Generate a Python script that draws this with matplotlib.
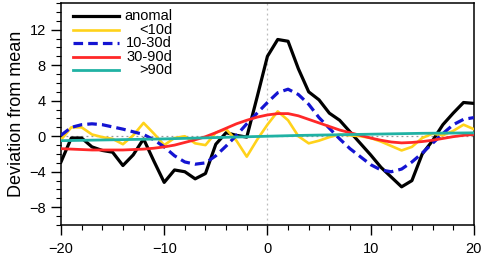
import matplotlib
matplotlib.use("Agg")
import matplotlib.pyplot as plt
from matplotlib.ticker import MultipleLocator

plt.rcParams['font.family'] = ['Liberation Sans', 'DejaVu Sans']

lags = list(range(-20, 21))

anomal = [-2.9, -0.2, -0.2, -1.2, -1.6, -1.8, -3.3, -2.1, -0.3, -2.8,
          -5.2, -3.8, -4.0, -4.8, -4.2, -0.9, 0.4, 0.1, -0.1, 4.4,
          9.0, 10.9, 10.7, 7.6, 5.0, 4.1, 2.6, 1.8, 0.5, -0.8,
          -2.1, -3.5, -4.6, -5.7, -5.0, -2.0, -0.5, 1.3, 2.6, 3.8, 3.7]

lt10 = [-0.4, 1.0, 1.0, 0.2, -0.1, -0.3, -0.9, 0.1, 1.5, 0.3,
        -1.0, -0.2, 0.0, -0.8, -1.0, 0.4, 0.8, -0.5, -2.3, -0.4,
        1.3, 2.8, 1.8, 0.0, -0.8, -0.5, -0.1, 0.2, 0.1, 0.0,
        -0.2, -0.6, -1.1, -1.6, -1.2, -0.2, 0.3, 0.1, 0.6, 1.3, 0.8]

d10_30 = [0.1, 1.0, 1.3, 1.4, 1.3, 1.05, 0.8, 0.5, 0.2, -0.4,
          -1.2, -2.2, -2.9, -3.15, -3.0, -2.2, -1.1, 0.1, 1.4, 2.6,
          3.8, 4.9, 5.3, 4.7, 3.6, 2.1, 0.9, -0.3, -1.4, -2.3,
          -3.2, -3.8, -4.0, -3.7, -2.9, -1.9, -0.8, 0.3, 1.3, 1.9, 2.1]

d30_90 = [-1.4, -1.45, -1.5, -1.55, -1.55, -1.55, -1.55, -1.5, -1.45, -1.35,
          -1.2, -1.0, -0.7, -0.4, -0.05, 0.4, 0.9, 1.4, 1.8, 2.15,
          2.4, 2.55, 2.55, 2.3, 1.9, 1.5, 1.1, 0.7, 0.4, 0.1,
          -0.2, -0.45, -0.65, -0.75, -0.7, -0.6, -0.45, -0.25, -0.05, 0.1, 0.2]

gt90 = [-0.5, -0.48, -0.46, -0.44, -0.42, -0.4, -0.38, -0.36, -0.34, -0.32,
        -0.3, -0.27, -0.24, -0.21, -0.18, -0.15, -0.12, -0.09, -0.06, -0.03,
        0.0, 0.03, 0.06, 0.09, 0.11, 0.13, 0.15, 0.17, 0.19, 0.21,
        0.23, 0.25, 0.27, 0.29, 0.31, 0.33, 0.34, 0.35, 0.36, 0.37, 0.38]

labels = ['anomal', '<10d', '10-30d', '30-90d', '>90d']
colors = ['black', '#FFD21A', '#1414D2', '#FF2828', '#20B2A4']
styles = ['-', '-', (0, (3, 1.6)), '-', '-']
widths = [2.3, 1.9, 2.3, 2.0, 2.0]
series = [anomal, lt10, d10_30, d30_90, gt90]

fig = plt.figure(figsize=(4.84, 2.57), dpi=100)
ax = fig.add_axes([0.126, 0.1245, 0.853, 0.8635])

ax.axhline(0, color='#999999', lw=0.9, ls=(0, (1.5, 2.5)), zorder=1)
ax.axvline(0, color='#bbbbbb', lw=0.9, ls=(0, (1.5, 2.5)), zorder=1)

for ys, c, s, w in zip(series, colors, styles, widths):
    ax.plot(lags, ys, color=c, ls=s, lw=w, zorder=3)

# legend, labels right-aligned like the original
for i, (lab, c, s, w) in enumerate(zip(labels, colors, styles, widths)):
    yy = 0.942 - i * 0.0613
    ax.plot([0.029, 0.141], [yy, yy], transform=ax.transAxes,
            color=c, ls=s, lw=w, clip_on=False, zorder=4)
    ax.text(0.269, yy, lab, transform=ax.transAxes, ha='right', va='center',
            fontsize=10.5, zorder=4)

ax.set_xlim(-20, 20)
ax.set_ylim(-10, 15)
ax.xaxis.set_major_locator(MultipleLocator(10))
ax.xaxis.set_minor_locator(MultipleLocator(2))
ax.set_yticks([-8, -4, 0, 4, 8, 12])
ax.yaxis.set_minor_locator(MultipleLocator(1))
ax.tick_params(which='major', direction='out', length=7, width=1.0, labelsize=10.5, pad=4)
ax.tick_params(which='minor', direction='out', length=3.5, width=0.8)
ax.tick_params(axis='x', pad=5)
for sp in ax.spines.values():
    sp.set_linewidth(1.1)

ax.set_ylabel('Deviation from mean', fontsize=13, labelpad=3)

fig.savefig('out.png', dpi=100)
